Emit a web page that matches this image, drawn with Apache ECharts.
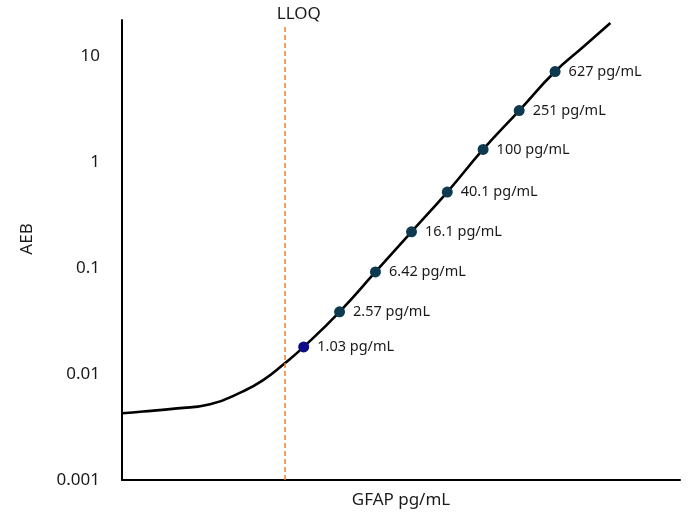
<!DOCTYPE html>
<html>
<head>
<meta charset="utf-8">
<script src="https://cdn.jsdelivr.net/npm/echarts@6/dist/echarts.min.js"></script>
<style>html,body{margin:0;padding:0;background:#fff}#c{width:689px;height:514px}</style>
</head>
<body>
<div id="c"></div>
<script>
// Calibrator concentrations (pg/mL) and their AEB values
const calibConc = [1.03, 2.57, 6.42, 16.1, 40.1, 100, 251, 627];
const calibAEB = [0.0180, 0.0386, 0.0917, 0.219, 0.520, 1.31, 3.05, 7.12];
const calibLabels = ['1.03 pg/mL', '2.57 pg/mL', '6.42 pg/mL', '16.1 pg/mL', '40.1 pg/mL', '100 pg/mL', '251 pg/mL', '627 pg/mL'];
// Fitted curve
const curveX = [0.01, 0.0171, 0.0408, 0.0946, 0.219, 0.366, 0.641, 1.03, 2.57, 6.42, 16.1, 40.1, 100, 251, 627, 1291, 2570];
const curveY = [0.00426, 0.00442, 0.00474, 0.00517, 0.00686, 0.00875, 0.0127, 0.0180, 0.0386, 0.0917, 0.219, 0.520, 1.31, 3.05, 7.12, 12.2, 20.4];
const lloq = 0.635;
const yTickLabels = ['0.001', '0.01', '0.1', '1', '10'];

const FONT = 'Noto Sans';
const chart = echarts.init(document.getElementById('c'), null, {renderer: 'canvas'});
chart.setOption({
  animation: false,
  backgroundColor: '#fff',
  grid: {left: 122, right: 9, top: 20, bottom: 32, containLabel: false},
  xAxis: {
    type: 'log', logBase: 10, min: 0.01, max: 15170,
    name: 'GFAP pg/mL', nameLocation: 'middle', nameGap: 12,
    nameTextStyle: {fontFamily: FONT, fontSize: 17, color: '#1a1a1a', verticalAlign: 'top'},
    axisLine: {lineStyle: {color: '#000', width: 2}},
    axisTick: {show: false}, axisLabel: {show: false}, splitLine: {show: false}
  },
  yAxis: {
    type: 'log', logBase: 10, min: 0.001, max: 21.8,
    name: 'AEB', nameLocation: 'middle', nameGap: 86,
    nameTextStyle: {fontFamily: FONT, fontSize: 17, color: '#1a1a1a', padding: [0, 0, 0, 22]},
    axisLine: {lineStyle: {color: '#000', width: 2}},
    axisTick: {show: false}, splitLine: {show: false},
    axisLabel: {
      fontFamily: FONT, fontSize: 17, color: '#1a1a1a', margin: 22,
      formatter: function (v) {
        const e = Math.round(Math.log10(v));
        if (Math.abs(Math.log10(v) - e) > 1e-6) return '';
        const idx = e + 3;
        return yTickLabels[idx] !== undefined ? yTickLabels[idx] : '';
      }
    }
  },
  series: [
    {
      type: 'line', smooth: 0.5, symbol: 'none',
      data: curveX.map((x, i) => [x, curveY[i]]),
      lineStyle: {color: '#000', width: 2.6},
      z: 2,
      markLine: {
        silent: true, symbol: ['none', 'none'],
        lineStyle: {color: '#ED7D31', type: [5, 3], width: 1.5},
        label: {show: true, position: 'end', formatter: 'LLOQ', fontFamily: FONT, fontSize: 17, color: '#1a1a1a', distance: 4, offset: [14, 0]},
        data: [[{coord: [lloq, 0.001]}, {coord: [lloq, 18.7]}]]
      }
    },
    {
      type: 'scatter', symbolSize: 11,
      data: calibConc.map((x, i) => ({
        value: [x, calibAEB[i]], name: calibLabels[i],
        itemStyle: {color: i === 0 ? '#0c0c8a' : '#0d3a4e', opacity: 1}
      })),
      label: {show: true, position: 'right', distance: 8, formatter: p => p.name, fontFamily: FONT, fontSize: 14.5, color: '#1a1a1a'},
      z: 3
    }
  ]
});
</script>
</body>
</html>
